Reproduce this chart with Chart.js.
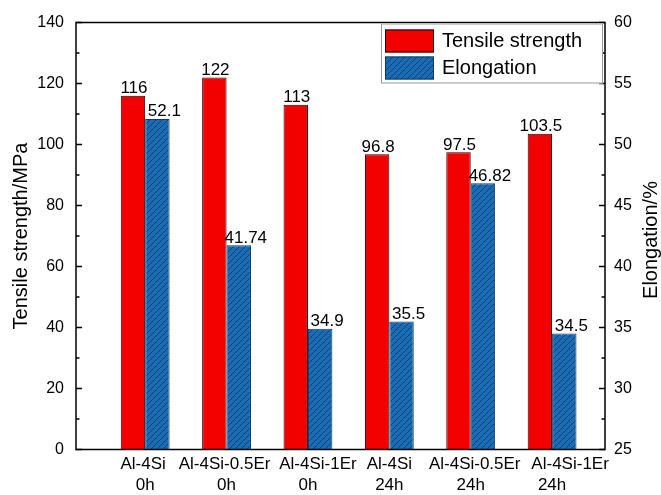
<!DOCTYPE html>
<html>
<head>
<meta charset="utf-8">
<script src="https://cdn.jsdelivr.net/npm/chart.js@4/dist/chart.umd.min.js"></script>
<style>
  html, body { margin: 0; padding: 0; background: #fff; }
  canvas { display: block; }
</style>
</head>
<body>
<canvas id="chart" width="661" height="495"></canvas>
<script>
// Alloy / ageing-time groups shown on the x axis (two lines per label)
const categories = [
  ['Al-4Si', '0h'],
  ['Al-4Si-0.5Er', '0h'],
  ['Al-4Si-1Er', '0h'],
  ['Al-4Si', '24h'],
  ['Al-4Si-0.5Er', '24h'],
  ['Al-4Si-1Er', '24h']
];
const tensileStrength = [116, 122, 113, 96.8, 97.5, 103.5];   // MPa, left axis
const elongation = [52.1, 41.74, 34.9, 35.5, 46.82, 34.5];     // %, right axis
const strengthTicks = [0, 20, 40, 60, 80, 100, 120, 140];
const elongationTicks = [25, 30, 35, 40, 45, 50, 55, 60];
const seriesNames = ['Tensile strength', 'Elongation'];
const axisTitles = ['Tensile strength/MPa', 'Elongation/%'];

const FONT = '"Liberation Sans", Arial, Helvetica, sans-serif';
const RED = '#f20000';
const BLUE = '#1a6db4';
// small horizontal nudges (px) for the first label line so long names don't collide
const nameNudge = [-2, -2, 10, 0, 4, 18];

// Blue fill with thin dark "/" hatching
function makeHatch() {
  const s = 6;
  const c = document.createElement('canvas');
  c.width = s; c.height = s;
  const g = c.getContext('2d');
  g.fillStyle = BLUE;
  g.fillRect(0, 0, s, s);
  g.strokeStyle = '#0f3560';
  g.lineWidth = 0.8;
  g.beginPath();
  g.moveTo(0, s); g.lineTo(s, 0);
  g.moveTo(-1, 1); g.lineTo(1, -1);
  g.moveTo(s - 1, s + 1); g.lineTo(s + 1, s - 1);
  g.stroke();
  return g.createPattern(c, 'repeat');
}
const hatch = makeHatch();

// Frame around the plot, inward tick marks, category labels and right title
const frameAndTicks = {
  id: 'frameAndTicks',
  afterDraw(chart) {
    const { ctx, chartArea: a } = chart;
    ctx.save();
    ctx.strokeStyle = '#000';
    ctx.lineWidth = 1.5;
    ctx.strokeRect(a.left, a.top, a.right - a.left, a.bottom - a.top);
    ctx.lineWidth = 1.3;
    const drawSide = (scale, x, dir) => {
      const vals = scale.ticks.map(t => t.value);
      ctx.beginPath();
      vals.forEach((v, i) => {
        const y = scale.getPixelForValue(v);
        ctx.moveTo(x, y); ctx.lineTo(x + dir * 6, y);
        if (i < vals.length - 1) {
          const ym = scale.getPixelForValue((v + vals[i + 1]) / 2);
          ctx.moveTo(x, ym); ctx.lineTo(x + dir * 3.5, ym);
        }
      });
      ctx.stroke();
    };
    drawSide(chart.scales.y, a.left, 1);
    drawSide(chart.scales.y1, a.right, -1);

    // two-line category labels under the axis
    const xs = chart.scales.x;
    ctx.font = '17px ' + FONT;
    ctx.fillStyle = '#000';
    ctx.textAlign = 'center';
    ctx.textBaseline = 'alphabetic';
    categories.forEach((lines, i) => {
      const px = xs.getPixelForValue(i);
      ctx.fillText(lines[0], px + nameNudge[i], a.bottom + 19.5);
      ctx.fillText(lines[1], px, a.bottom + 40.5);
    });

    // right-hand axis title, reading bottom to top like the left one
    const r = chart.scales.y1;
    ctx.translate(r.right - 10, (r.top + r.bottom) / 2 + 4);
    ctx.rotate(-Math.PI / 2);
    ctx.font = '20px ' + FONT;
    ctx.textBaseline = 'middle';
    ctx.fillText(axisTitles[1], 0, 0);
    ctx.restore();
  }
};

// Value printed above every bar
const valueLabels = {
  id: 'valueLabels',
  afterDatasetsDraw(chart) {
    const ctx = chart.ctx;
    ctx.save();
    ctx.font = '17px ' + FONT;
    ctx.fillStyle = '#000';
    ctx.textAlign = 'center';
    ctx.textBaseline = 'alphabetic';
    chart.data.datasets.forEach((ds, di) => {
      const meta = chart.getDatasetMeta(di);
      const shift = di === 1 ? 7 : 1;
      meta.data.forEach((bar, i) => {
        ctx.fillText(String(ds.data[i].y), bar.x + shift, bar.y - 2.5);
      });
    });
    ctx.restore();
  }
};

// Boxed legend in the upper right corner of the plot
const boxLegend = {
  id: 'boxLegend',
  afterDraw(chart) {
    const { ctx, chartArea: a } = chart;
    const x0 = a.right - 224, y0 = a.top + 1, w = 222, h = 60;
    ctx.save();
    ctx.fillStyle = '#fff';
    ctx.fillRect(x0, y0, w, h);
    ctx.strokeStyle = '#9a9a9a';
    ctx.lineWidth = 1;
    ctx.strokeRect(x0 + 0.5, y0 + 0.5, w - 1, h - 1);
    ctx.font = '20px ' + FONT;
    ctx.textAlign = 'left';
    ctx.textBaseline = 'middle';
    chart.data.datasets.forEach((ds, i) => {
      const sy = y0 + 6 + i * 27;
      ctx.fillStyle = ds.backgroundColor;
      ctx.fillRect(x0 + 4, sy, 49, 23);
      ctx.strokeStyle = ds.borderColor;
      ctx.lineWidth = 1;
      ctx.strokeRect(x0 + 4.5, sy + 0.5, 48, 22);
      ctx.fillStyle = '#000';
      ctx.fillText(ds.label, x0 + 61, sy + 12);
    });
    ctx.restore();
  }
};

const toPoints = arr => arr.map((v, i) => ({ x: i, y: v }));

new Chart(document.getElementById('chart'), {
  type: 'bar',
  data: {
    datasets: [
      {
        label: seriesNames[0],
        data: toPoints(tensileStrength),
        yAxisID: 'y',
        backgroundColor: RED,
        borderColor: '#1a0000',
        borderWidth: 1
      },
      {
        label: seriesNames[1],
        data: toPoints(elongation),
        yAxisID: 'y1',
        backgroundColor: hatch,
        borderColor: '#0c3b6b',
        borderWidth: 1
      }
    ]
  },
  options: {
    responsive: false,
    animation: false,
    devicePixelRatio: 1,
    datasets: { bar: { categoryPercentage: 0.6, barPercentage: 1.0 } },
    layout: { padding: { top: 22.5, left: 0, right: 0, bottom: 0 } },
    plugins: { legend: { display: false }, tooltip: { enabled: false } },
    scales: {
      x: {
        type: 'linear',
        offset: false,
        min: -0.85,
        max: 5.65,
        grid: { display: false, drawTicks: false, offset: false },
        border: { display: false },
        afterBuildTicks: s => { s.ticks = categories.map((_, i) => ({ value: i })); },
        afterFit: s => { s.height = 45.5; },
        ticks: { display: false }
      },
      y: {
        position: 'left',
        min: strengthTicks[0],
        max: strengthTicks[strengthTicks.length - 1],
        grid: { display: false, drawTicks: false },
        border: { display: false },
        afterFit: s => { s.width = 76; },
        ticks: {
          stepSize: strengthTicks[1] - strengthTicks[0],
          padding: 12,
          color: '#000',
          font: { family: FONT, size: 16 }
        },
        title: {
          display: true,
          text: axisTitles[0],
          color: '#000',
          font: { family: FONT, size: 20, lineHeight: 1 },
          padding: { top: 11, bottom: 0 }
        }
      },
      y1: {
        position: 'right',
        min: elongationTicks[0],
        max: elongationTicks[elongationTicks.length - 1],
        grid: { display: false, drawTicks: false },
        border: { display: false },
        afterFit: s => { s.width = 56; },
        ticks: {
          stepSize: elongationTicks[1] - elongationTicks[0],
          padding: 9,
          color: '#000',
          font: { family: FONT, size: 16 }
        }
      }
    }
  },
  plugins: [valueLabels, frameAndTicks, boxLegend]
});
</script>
</body>
</html>
